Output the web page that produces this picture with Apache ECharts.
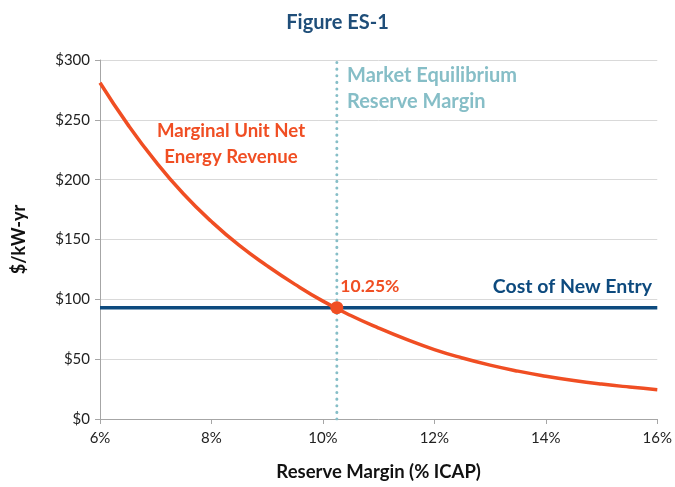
<!DOCTYPE html>
<html>
<head>
<meta charset="utf-8">
<script src="https://cdn.jsdelivr.net/npm/echarts@6/dist/echarts.min.js"></script>
<style>
  html, body { margin: 0; padding: 0; background: #fff; }
  #chart { width: 675px; height: 487px; }
</style>
</head>
<body>
<div id="chart"></div>
<script>
// reserve margin (% ICAP) and marginal unit net energy revenue ($/kW-yr)
const reserveMargin = [6, 6.5, 7, 7.5, 8, 8.5, 9, 9.5, 10, 10.5, 11, 11.5, 12, 12.5, 13, 13.5, 14, 14.5, 15, 15.5, 16]
const netRevenue = [281, 246, 215, 188, 165, 145, 128, 112.5, 98.5, 86.5, 76, 66.5, 58, 51, 45, 40, 35.8, 32.2, 29.2, 26.7, 24.5]
const equilibriumMargin = 10.25
const costOfNewEntry = 93
const xRange = [6, 16]
const yRange = [0, 300]

const font = 'Lato, "Open Sans", sans-serif'
const red = '#f04e23'
const navy = '#0d4a7e'
const teal = '#86bec7'
const axisColor = '#a6a6a6'

const chart = echarts.init(document.getElementById('chart'))

const opt = {
  backgroundColor: '#fff',
  animation: false,
  textStyle: { fontFamily: font },
  title: {
    text: 'Figure ES-1',
    left: 'center',
    top: 8,
    textStyle: { fontFamily: font, fontSize: 20, fontWeight: 'bold', color: '#1f4e79' }
  },
  grid: { left: 100, right: 17, top: 60, bottom: 68 },
  xAxis: {
    type: 'value',
    min: xRange[0],
    max: xRange[1],
    interval: 2,
    name: 'Reserve Margin (% ICAP)',
    nameLocation: 'middle',
    nameGap: 44,
    nameTextStyle: { fontFamily: font, fontSize: 18.5, fontWeight: 'bold', color: '#111' },
    axisLine: { show: true, lineStyle: { color: axisColor, width: 1 } },
    axisTick: { show: true, length: 5, lineStyle: { color: axisColor } },
    axisLabel: { formatter: v => v + '%', fontSize: 15, color: '#222', margin: 12 },
    splitLine: { show: false }
  },
  yAxis: {
    type: 'value',
    min: yRange[0],
    max: yRange[1],
    interval: 50,
    name: '$/kW-yr',
    nameLocation: 'middle',
    nameGap: 72,
    nameRotate: 90,
    nameTextStyle: { fontFamily: font, fontSize: 18, fontWeight: 'bold', color: '#111' },
    axisLine: { show: true, lineStyle: { color: axisColor, width: 1 } },
    axisTick: { show: true, length: 5, lineStyle: { color: axisColor } },
    axisLabel: { formatter: v => '$' + v, fontSize: 15, color: '#222', margin: 10 },
    splitLine: { show: true, lineStyle: { color: '#d9d9d9', width: 1 } }
  },
  series: [{
    name: 'Market Equilibrium Reserve Margin',
    type: 'line',
    data: [[equilibriumMargin, yRange[0]], [equilibriumMargin, yRange[1]]],
    showSymbol: false,
    lineStyle: { color: teal, width: 3, type: [0.1, 6.5], cap: 'round' },
    z: 2
  }, {
    name: 'Cost of New Entry',
    type: 'line',
    data: [[xRange[0], costOfNewEntry], [xRange[1], costOfNewEntry]],
    showSymbol: false,
    lineStyle: { color: navy, width: 3.5 },
    z: 3
  }, {
    name: 'Marginal Unit Net Energy Revenue',
    type: 'line',
    data: reserveMargin.map((x, i) => [x, netRevenue[i]]),
    smooth: 0.5,
    showSymbol: false,
    lineStyle: { color: red, width: 3.5 },
    z: 4
  }, {
    name: 'Equilibrium',
    type: 'scatter',
    data: [[equilibriumMargin, costOfNewEntry]],
    symbolSize: 13,
    itemStyle: { color: red, opacity: 1 },
    label: {
      show: true,
      formatter: equilibriumMargin + '%',
      position: [10, -24],
      fontFamily: font,
      fontSize: 17.5,
      fontWeight: 'bold',
      color: red
    },
    z: 5
  }],
  graphic: [{
    type: 'text',
    x: 347,
    y: 63,
    style: {
      text: 'Market Equilibrium\nReserve Margin',
      font: 'bold 20px ' + font,
      fill: teal,
      lineHeight: 26
    }
  }, {
    type: 'text',
    x: 231,
    y: 118,
    style: {
      text: 'Marginal Unit Net\nEnergy Revenue',
      font: 'bold 18.6px ' + font,
      fill: red,
      align: 'center',
      lineHeight: 26
    }
  }, {
    type: 'text',
    x: 652,
    y: 277,
    style: {
      text: 'Cost of New Entry',
      font: 'bold 19.5px ' + font,
      fill: navy,
      align: 'right'
    }
  }]
}

chart.setOption(opt)
</script>
</body>
</html>
